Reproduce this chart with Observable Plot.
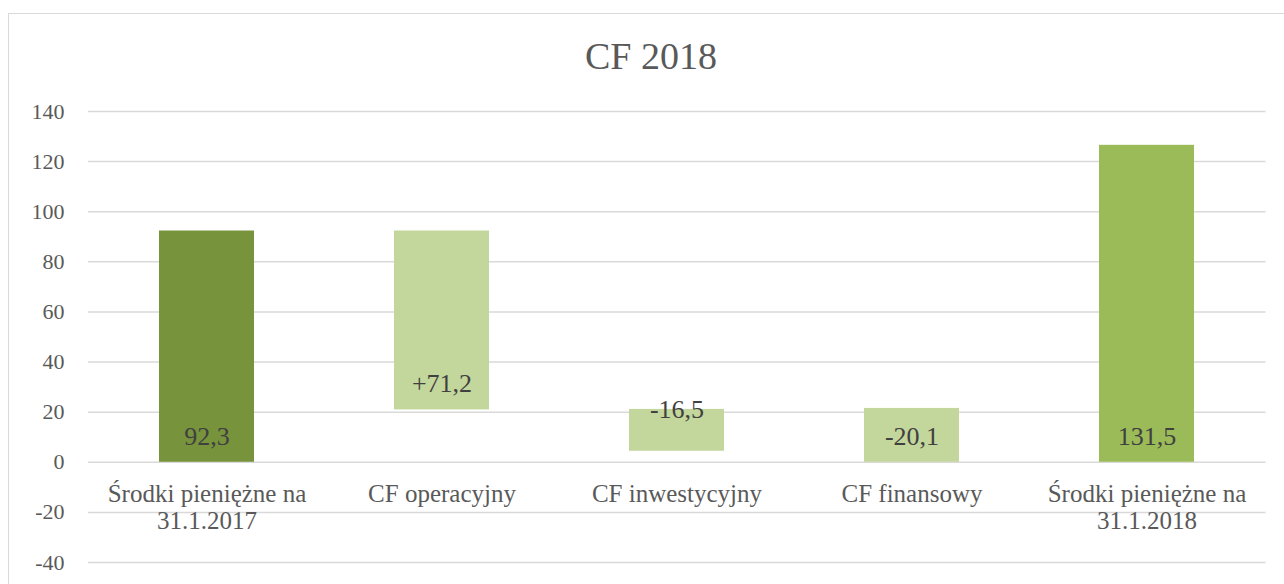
<!DOCTYPE html>
<html><head><meta charset="utf-8">
<script src="https://cdn.jsdelivr.net/npm/d3@7"></script>
<script src="https://cdn.jsdelivr.net/npm/@observablehq/plot@0.6"></script>
<style>
body{margin:0;width:1284px;height:584px;overflow:hidden;background:#fff;font-family:"Liberation Serif",serif;position:relative}
#frame{position:absolute;left:8px;top:13px;width:1300px;height:620px;border:1.5px solid #d9d9d9;box-sizing:border-box;pointer-events:none}
#title{height:90px;position:relative}
#title span{position:absolute;left:651px;top:37px;transform:translateX(-50%);font-size:38px;line-height:38px;color:#595959;white-space:nowrap}
#chart svg{display:block}
#chart svg, #chart svg text, #chart svg g{font-family:"Liberation Serif",serif !important}
</style></head><body>
<div id="frame"></div>
<div id="title"><span>CF 2018</span></div>
<div id="chart"></div>
<script>
const categories = ["Środki pieniężne na\n31.1.2017", "CF operacyjny", "CF inwestycyjny", "CF finansowy", "Środki pieniężne na\n31.1.2018"];
const barBase = [0, 20.9, 4.4, 0, 0];
const barTop = [92.3, 92.3, 21.1, 21.5, 126.5];
const valueLabels = ["92,3", "+71,2", "-16,5", "-20,1", "131,5"];
const barKind = ["start", "change", "change", "change", "end"];
const yTicks = [-40, -20, 0, 20, 40, 60, 80, 100, 120, 140];

const kindColors = {start: "#77933C", change: "#C3D69B", end: "#9BBB59"};
const serif = "'Liberation Serif', serif";

const data = categories.map((c, i) => {
  const h = barTop[i] - barBase[i];
  return {
    cat: c,
    base: barBase[i],
    top: barTop[i],
    label: valueLabels[i],
    fill: kindColors[barKind[i]],
    labelY: h >= 20 ? barBase[i] + 10.4 : barTop[i]
  };
});

const chart = Plot.plot({
  width: 1284,
  height: 494,
  marginLeft: 88,
  marginRight: 18.5,
  marginTop: 21,
  marginBottom: 22,
  style: {fontFamily: serif, background: "transparent", overflow: "visible"},
  x: {domain: categories, paddingInner: 0.597, paddingOuter: 0.2985, axis: null},
  y: {domain: [-40, 140], axis: null},
  color: {type: "identity"},
  marks: [
    Plot.gridY(yTicks, {stroke: "#d9d9d9", strokeOpacity: 1, strokeWidth: 1.5}),
    Plot.axisY(yTicks, {tickSize: 0, tickPadding: 24, tickFormat: d => String(d), fontSize: 22, fontFamily: serif, fill: "#595959", label: null}),
    Plot.barY(data, {x: "cat", y1: "base", y2: "top", fill: "fill"}),
    Plot.text(data, {x: "cat", y: "labelY", text: "label", fontSize: 26, fontFamily: serif, fill: "#404040"}),
    Plot.text(data, {x: "cat", y: () => 0, text: "cat", lineAnchor: "top", dy: 20, lineHeight: 1.1, fontSize: 25, fontFamily: serif, fill: "#595959"})
  ]
});
document.getElementById("chart").appendChild(chart);
</script>
</body></html>
